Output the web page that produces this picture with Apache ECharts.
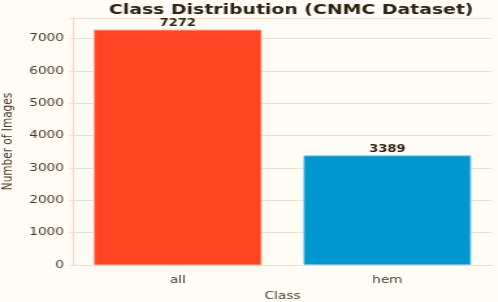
<!DOCTYPE html>
<html><head><meta charset="utf-8">
<script src="https://cdn.jsdelivr.net/npm/echarts@6/dist/echarts.min.js"></script>
<style>
html,body{margin:0;padding:0;background:#fffcf6;overflow:hidden;width:498px;height:302px}
#c{width:383px;height:302px;transform:scaleX(1.3);transform-origin:0 0}
</style>
</head><body><div id="c"></div>
<script>
const categories = ['all', 'hem'];
const counts = [7272, 3389];
const barColors = ['#ff4422', '#0096d0'];
const yTicks = [0, 1000, 2000, 3000, 4000, 5000, 6000, 7000];

const chart = echarts.init(document.getElementById('c'), null, {renderer: 'canvas'});
const txt = '#4a3822';
const peach = '#f6dcc6';
chart.setOption({
  backgroundColor: '#fffcf6',
  animation: false,
  title: {
    text: 'Class Distribution (CNMC Dataset)',
    left: 219, top: -2, textAlign: 'center',
    textStyle: {fontFamily: 'DejaVu Sans', fontWeight: 'bold', fontSize: 14.5, color: '#2e2414'}
  },
  grid: {left: 56.2, right: 4.5, top: 18, bottom: 37, containLabel: false, outerBoundsMode: 'none'},
  xAxis: {
    type: 'category', data: categories,
    name: 'Class', nameLocation: 'middle', nameGap: 23,
    nameTextStyle: {fontFamily: 'DejaVu Sans', fontSize: 10.5, color: txt},
    axisLine: {lineStyle: {color: peach, width: 1}},
    axisTick: {show: false},
    axisLabel: {fontFamily: 'DejaVu Sans', fontSize: 10.5, color: txt, margin: 10}
  },
  yAxis: {
    type: 'value', min: 0, max: 7636, interval: 1000,
    name: 'Number of Images', nameLocation: 'middle', nameGap: 41,
    nameTextStyle: {fontFamily: 'DejaVu Sans', fontSize: 10.5, color: txt},
    axisLine: {show: true, lineStyle: {color: peach, width: 1.3}},
    axisTick: {show: true, length: 3, lineStyle: {color: peach}},
    splitLine: {lineStyle: {color: peach, width: 1}},
    axisLabel: {fontFamily: 'DejaVu Sans', fontSize: 10.5, color: txt, margin: 7,
      formatter: v => yTicks.includes(v) ? String(v) : ''}
  },
  series: [{
    type: 'bar', barCategoryGap: '20%',
    data: counts.map((v, i) => ({value: v, itemStyle: {color: barColors[i], borderColor: i ? '#5ac0ea' : '#ff7a5a', borderWidth: 1}})),
    label: {show: true, position: 'top', distance: 1,
      fontFamily: 'DejaVu Sans', fontWeight: 'bold', fontSize: 10, color: '#2e2414'}
  }]
});
</script></body></html>
